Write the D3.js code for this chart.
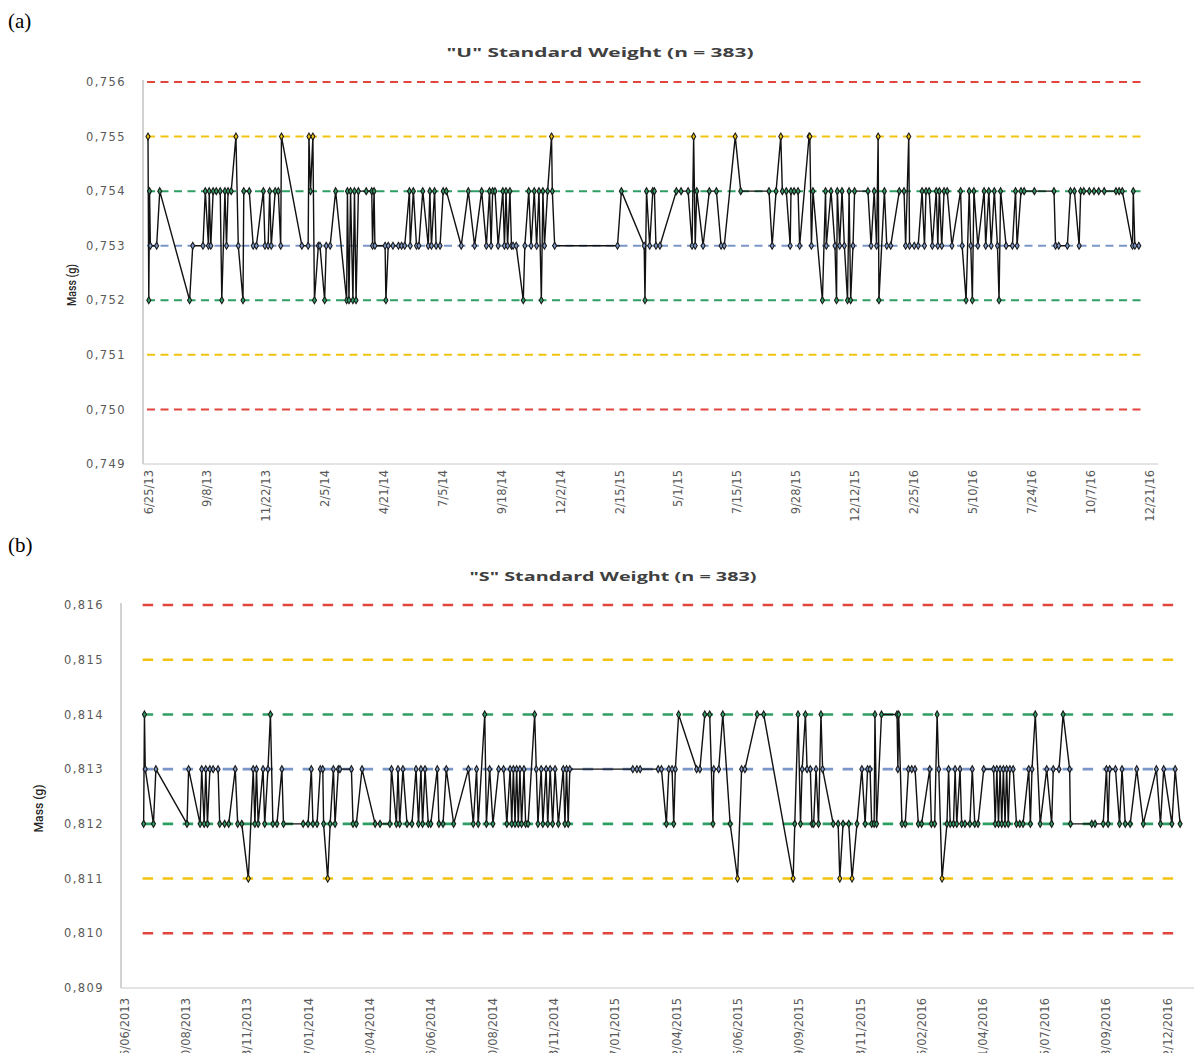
<!DOCTYPE html>
<html>
<head>
<meta charset="utf-8">
<script src="https://cdn.jsdelivr.net/npm/d3@7"></script>
<style>
	body { margin: 0; background: #fff; }
	svg { display: block; }
</style>
</head>
<body>
<div id="chart"></div>
<script>
// "U" weight: date axis labels (m/d/yy), days since the first label, mass in g
const uTickLabels = ['6/25/13', '9/8/13', '11/22/13', '2/5/14', '4/21/14', '7/5/14', '9/18/14', '12/2/14', '2/15/15',
	'5/1/15', '7/15/15', '9/28/15', '12/12/15', '2/25/16', '5/10/16', '7/24/16', '10/7/16', '12/21/16'];
const uDays = [
	0, 1, 2, 3, 11, 15, 53, 57, 70, 73,
	77, 78, 80, 83, 87, 92, 94, 98, 100, 102,
	106, 112, 115, 121, 122, 129, 134, 138, 147, 149,
	153, 155, 157, 162, 166, 169, 170, 196, 204, 205,
	207, 210, 212, 217, 219, 225, 227, 232, 239, 253,
	254, 256, 258, 261, 263, 265, 268, 278, 285, 286,
	288, 289, 302, 303, 306, 312, 319, 323, 327, 333,
	334, 338, 342, 345, 350, 357, 359, 361, 365, 367,
	372, 376, 380, 399, 408, 416, 425, 431, 435, 437,
	439, 442, 446, 452, 454, 456, 458, 461, 463, 465,
	469, 478, 480, 485, 488, 492, 495, 498, 501, 503,
	505, 509, 514, 515, 518, 598, 603, 632, 633, 635,
	639, 643, 645, 647, 652, 673, 679, 688, 693, 695,
	697, 699, 707, 715, 724, 730, 734, 748, 755, 791,
	795, 800, 806, 808, 813, 818, 819, 823, 828, 830,
	842, 843, 845, 847, 859, 863, 864, 870, 875, 877,
	878, 881, 884, 887, 891, 893, 895, 898, 900, 917,
	921, 925, 928, 930, 931, 938, 941, 946, 957, 963,
	965, 969, 970, 976, 981, 986, 989, 991, 995, 999,
	1004, 1006, 1008, 1011, 1014, 1018, 1024, 1035, 1037, 1042,
	1046, 1048, 1050, 1052, 1057, 1065, 1067, 1071, 1074, 1078,
	1082, 1084, 1086, 1093, 1101, 1105, 1107, 1112, 1116, 1129,
	1154, 1156, 1160, 1171, 1175, 1180, 1186, 1188, 1192, 1199,
	1205, 1211, 1218, 1233, 1237, 1241, 1254, 1255, 1257, 1262,
];
const uMass = [
	0.755, 0.752, 0.754, 0.753, 0.753, 0.754, 0.752, 0.753, 0.753, 0.754,
	0.753, 0.754, 0.753, 0.754, 0.754, 0.754, 0.752, 0.754, 0.753, 0.754,
	0.754, 0.755, 0.753, 0.752, 0.754, 0.754, 0.753, 0.753, 0.754, 0.753,
	0.753, 0.754, 0.753, 0.754, 0.754, 0.753, 0.755, 0.753, 0.753, 0.755,
	0.754, 0.755, 0.752, 0.753, 0.753, 0.752, 0.753, 0.753, 0.754, 0.752,
	0.754, 0.752, 0.754, 0.752, 0.754, 0.752, 0.754, 0.754, 0.754, 0.753,
	0.754, 0.753, 0.753, 0.752, 0.753, 0.753, 0.753, 0.753, 0.753, 0.754,
	0.753, 0.754, 0.753, 0.753, 0.754, 0.753, 0.754, 0.753, 0.754, 0.753,
	0.753, 0.754, 0.754, 0.753, 0.754, 0.753, 0.754, 0.753, 0.754, 0.753,
	0.754, 0.754, 0.753, 0.754, 0.753, 0.754, 0.753, 0.754, 0.753, 0.753,
	0.753, 0.752, 0.753, 0.754, 0.753, 0.754, 0.753, 0.754, 0.752, 0.754,
	0.753, 0.754, 0.755, 0.754, 0.753, 0.753, 0.754, 0.753, 0.752, 0.754,
	0.753, 0.754, 0.754, 0.753, 0.753, 0.754, 0.754, 0.754, 0.753, 0.755,
	0.753, 0.754, 0.753, 0.754, 0.754, 0.753, 0.753, 0.755, 0.754, 0.754,
	0.753, 0.754, 0.755, 0.754, 0.754, 0.753, 0.754, 0.754, 0.754, 0.753,
	0.755, 0.755, 0.753, 0.754, 0.752, 0.754, 0.753, 0.754, 0.753, 0.752,
	0.754, 0.753, 0.754, 0.753, 0.752, 0.754, 0.752, 0.753, 0.754, 0.754,
	0.753, 0.754, 0.753, 0.755, 0.752, 0.754, 0.753, 0.753, 0.754, 0.754,
	0.753, 0.755, 0.753, 0.753, 0.753, 0.754, 0.753, 0.754, 0.754, 0.753,
	0.754, 0.753, 0.754, 0.753, 0.754, 0.754, 0.753, 0.754, 0.753, 0.752,
	0.754, 0.753, 0.752, 0.754, 0.753, 0.754, 0.753, 0.754, 0.753, 0.754,
	0.753, 0.752, 0.754, 0.753, 0.753, 0.754, 0.753, 0.754, 0.754, 0.754,
	0.754, 0.753, 0.753, 0.753, 0.754, 0.754, 0.753, 0.754, 0.754, 0.754,
	0.754, 0.754, 0.754, 0.754, 0.754, 0.754, 0.753, 0.754, 0.753, 0.753,
];
const uLimits = [0.756, 0.755, 0.754, 0.753, 0.752, 0.751, 0.750];
const uYTicks = [0.749, 0.750, 0.751, 0.752, 0.753, 0.754, 0.755, 0.756];

// "S" weight: date axis labels (dd/mm/yyyy), days since the first label, mass in g
const sTickLabels = ['06/06/2013', '20/08/2013', '03/11/2013', '17/01/2014', '02/04/2014', '16/06/2014', '30/08/2014',
	'13/11/2014', '27/01/2015', '12/04/2015', '26/06/2015', '09/09/2015', '23/11/2015', '06/02/2016', '21/04/2016',
	'05/07/2016', '18/09/2016', '02/12/2016'];
const sDays = [
	24, 25, 26, 36, 39, 77, 79, 93, 95, 98,
	100, 102, 105, 109, 115, 117, 123, 128, 136, 139,
	144, 152, 158, 160, 162, 164, 170, 172, 176, 179,
	182, 187, 193, 195, 219, 225, 229, 231, 236, 240,
	243, 244, 249, 252, 256, 258, 262, 264, 278, 280,
	284, 291, 307, 313, 325, 327, 333, 335, 337, 341,
	346, 352, 357, 360, 363, 365, 368, 372, 375, 383,
	385, 390, 394, 403, 421, 427, 431, 433, 441, 443,
	447, 451, 458, 464, 468, 472, 474, 476, 478, 480,
	482, 484, 486, 489, 491, 494, 502, 504, 506, 510,
	512, 516, 518, 521, 524, 527, 531, 537, 539, 541,
	543, 545, 622, 627, 631, 653, 657, 663, 666, 670,
	672, 674, 678, 700, 704, 710, 716, 720, 721, 727,
	732, 741, 750, 755, 759, 774, 782, 818, 820, 824,
	827, 829, 833, 835, 839, 841, 843, 846, 849, 852,
	854, 867, 873, 875, 879, 886, 890, 896, 902, 906,
	909, 912, 914, 917, 918, 920, 926, 945, 946, 947,
	951, 955, 959, 963, 967, 971, 975, 985, 987, 991,
	994, 996, 1000, 1006, 1008, 1010, 1014, 1016, 1018, 1022,
	1024, 1028, 1034, 1037, 1040, 1044, 1051, 1063, 1065, 1067,
	1069, 1071, 1073, 1075, 1077, 1079, 1081, 1083, 1087, 1091,
	1095, 1099, 1106, 1108, 1110, 1114, 1120, 1128, 1134, 1136,
	1143, 1148, 1156, 1157, 1183, 1187, 1197, 1201, 1203, 1205,
	1212, 1217, 1220, 1224, 1230, 1238, 1246, 1262, 1267, 1271,
	1281, 1285, 1291,
];
const sMass = [
	0.812, 0.814, 0.813, 0.812, 0.813, 0.812, 0.813, 0.812, 0.813, 0.812,
	0.813, 0.812, 0.813, 0.813, 0.813, 0.812, 0.812, 0.812, 0.813, 0.812,
	0.812, 0.811, 0.813, 0.812, 0.813, 0.812, 0.813, 0.812, 0.813, 0.814,
	0.812, 0.812, 0.813, 0.812, 0.812, 0.812, 0.813, 0.812, 0.812, 0.813,
	0.813, 0.812, 0.811, 0.812, 0.813, 0.812, 0.813, 0.813, 0.813, 0.812,
	0.812, 0.813, 0.812, 0.812, 0.812, 0.813, 0.812, 0.813, 0.812, 0.813,
	0.812, 0.812, 0.813, 0.812, 0.813, 0.812, 0.813, 0.812, 0.812, 0.813,
	0.812, 0.812, 0.813, 0.812, 0.813, 0.812, 0.813, 0.812, 0.814, 0.812,
	0.813, 0.812, 0.813, 0.813, 0.812, 0.813, 0.812, 0.813, 0.812, 0.813,
	0.812, 0.813, 0.812, 0.813, 0.812, 0.812, 0.814, 0.813, 0.812, 0.813,
	0.812, 0.813, 0.812, 0.813, 0.812, 0.813, 0.812, 0.813, 0.812, 0.813,
	0.812, 0.813, 0.813, 0.813, 0.813, 0.813, 0.813, 0.812, 0.813, 0.813,
	0.812, 0.813, 0.814, 0.813, 0.813, 0.814, 0.814, 0.812, 0.813, 0.813,
	0.814, 0.812, 0.811, 0.813, 0.813, 0.814, 0.814, 0.811, 0.812, 0.814,
	0.812, 0.813, 0.814, 0.813, 0.813, 0.812, 0.812, 0.813, 0.812, 0.814,
	0.813, 0.812, 0.812, 0.811, 0.812, 0.812, 0.811, 0.812, 0.813, 0.812,
	0.813, 0.813, 0.812, 0.812, 0.814, 0.812, 0.814, 0.814, 0.813, 0.814,
	0.812, 0.812, 0.813, 0.813, 0.813, 0.812, 0.812, 0.813, 0.812, 0.812,
	0.814, 0.813, 0.811, 0.812, 0.813, 0.812, 0.812, 0.813, 0.812, 0.813,
	0.812, 0.812, 0.812, 0.813, 0.812, 0.812, 0.813, 0.813, 0.812, 0.813,
	0.812, 0.813, 0.812, 0.813, 0.812, 0.813, 0.812, 0.813, 0.813, 0.812,
	0.812, 0.812, 0.813, 0.812, 0.813, 0.814, 0.812, 0.813, 0.812, 0.813,
	0.813, 0.814, 0.813, 0.812, 0.812, 0.812, 0.812, 0.813, 0.812, 0.813,
	0.813, 0.812, 0.813, 0.812, 0.812, 0.813, 0.812, 0.813, 0.812, 0.813,
	0.812, 0.813, 0.812,
];
const sLimits = [0.816, 0.815, 0.814, 0.813, 0.812, 0.811, 0.810];
const sYTicks = [0.809, 0.810, 0.811, 0.812, 0.813, 0.814, 0.815, 0.816];

// red = action limit, yellow = warning limit, green = +-1 mg, blue = nominal
const limitColors = ['#e2453c', '#f1c30f', '#2f9e63', '#7b96c8', '#2f9e63', '#f1c30f', '#e2453c'];

const width = 1202;
const height = 1053;

const commaLocale = d3.formatLocale({ decimal: ',', thousands: '.', grouping: [3], currency: ['', ' €'] });
const massFormat = commaLocale.format('.3f');

const svg = d3.select('#chart').append('svg')
	.attr('width', width)
	.attr('height', height);

function controlChart(config) {
	const {
		panel,
		panelY,
		title,
		titleX,
		titleY,
		titleWidth,
		tickLabels,
		parseTick,
		days,
		mass,
		limits,
		yTicks,
		axisX,
		axisRight,
		xFirst,
		xLast,
		yTop,
		yBottom,
		tickLabelX,
		labelGap,
		massLabelX,
		massLabelWidth,
		dash,
		dashWidth,
	} = config;

	const g = svg.append('g');

	const tickDates = tickLabels.map((t) => parseTick(t));
	const dates = days.map((d) => d3.timeDay.offset(tickDates[0], d));
	const points = zipPoints(dates, mass);

	const xScale = d3.scaleTime()
		.domain([tickDates[0], tickDates[tickDates.length - 1]])
		.range([xFirst, xLast]);

	const yScale = d3.scaleLinear()
		.domain([yTicks[0], yTicks[yTicks.length - 1]])
		.range([yBottom, yTop]);

	const colorScale = d3.scaleOrdinal(limits, limitColors);

	g.append('text')
		.attr('x', 8)
		.attr('y', panelY)
		.style('font-family', '"Liberation Serif", "Times New Roman", serif')
		.style('font-size', '21px')
		.style('fill', '#000')
		.text(panel);

	g.append('text')
		.attr('x', titleX)
		.attr('y', titleY)
		.attr('text-anchor', 'middle')
		.attr('textLength', titleWidth)
		.attr('lengthAdjust', 'spacingAndGlyphs')
		.style('font-family', '"Open Sans", sans-serif')
		.style('font-weight', 700)
		.style('font-size', '13px')
		.style('fill', '#404040')
		.text(title);

	// axes, Excel style: plain grey lines, no tick marks
	g.append('g')
		.attr('class', 'y axis')
		.attr('transform', `translate(${axisX},0)`)
		.call(d3.axisLeft(yScale).tickValues(yTicks).tickSize(0).tickPadding(axisX - tickLabelX).tickFormat(massFormat))
		.call((a) => a.select('.domain').remove())
		.selectAll('text')
			.style('font-family', '"DejaVu Sans", sans-serif')
			.style('font-size', '11.5px')
			.style('letter-spacing', '1.4px')
			.style('fill', '#595959');

	g.append('line')
		.attr('x1', axisX).attr('x2', axisX)
		.attr('y1', yTop - 2).attr('y2', yBottom)
		.attr('stroke', '#a6a6a6');

	g.append('g')
		.attr('class', 'x axis')
		.attr('transform', `translate(0,${yBottom})`)
		.call(d3.axisBottom(xScale).tickValues(tickDates).tickSize(0).tickFormat((d, i) => tickLabels[i]))
		.call((a) => a.select('.domain').remove())
		.selectAll('text')
			.attr('transform', 'rotate(-90)')
			.attr('x', -labelGap)
			.attr('y', 0)
			.attr('dy', '0.35em')
			.style('text-anchor', 'end')
			.style('font-family', '"DejaVu Sans", sans-serif')
			.style('font-size', '11.5px')
			.style('fill', '#595959');

	g.append('line')
		.attr('x1', axisX).attr('x2', axisRight)
		.attr('y1', yBottom).attr('y2', yBottom)
		.attr('stroke', '#c8c8c8');

	g.append('text')
		.attr('transform', `translate(${massLabelX},${(yTop + yBottom) / 2 + 12}) rotate(-90)`)
		.attr('text-anchor', 'middle')
		.attr('textLength', massLabelWidth)
		.attr('lengthAdjust', 'spacingAndGlyphs')
		.style('font-family', 'Roboto, sans-serif')
		.style('font-weight', 500)
		.style('font-size', '12.5px')
		.style('fill', '#262626')
		.text('Mass (g)');

	// limit lines run from the first to the last measurement
	const x0 = xScale(dates[0]) - 1;
	const x1 = xScale(dates[dates.length - 1]) + 2;
	g.selectAll('.limit')
		.data(limits)
		.enter().append('line')
			.attr('class', 'limit')
			.attr('x1', x0)
			.attr('x2', x1)
			.attr('y1', (d) => yScale(d))
			.attr('y2', (d) => yScale(d))
			.attr('stroke', (d) => colorScale(d))
			.attr('stroke-width', dashWidth)
			.attr('stroke-dasharray', dash);

	const line = d3.line()
		.x((d) => xScale(d[0]))
		.y((d) => yScale(d[1]));

	g.append('path')
		.datum(points)
		.attr('fill', 'none')
		.attr('stroke', '#111')
		.attr('stroke-width', 1.4)
		.attr('stroke-linejoin', 'round')
		.attr('d', line);

	g.selectAll('.dot')
		.data(points)
		.enter().append('path')
			.attr('class', 'dot')
			.attr('transform', (d) => `translate(${xScale(d[0])},${yScale(d[1])})`)
			.attr('d', d3.symbol(d3.symbolDiamond, 14))
			.style('fill', (d) => colorScale(d[1]))
			.style('stroke', '#1a1a1a')
			.style('stroke-width', 1.1);
}

function zipPoints(xs, ys) {
	return xs.map((x, i) => [x, ys[i]]);
}

controlChart({
	panel: '(a)',
	panelY: 28,
	title: '"U" Standard Weight (n = 383)',
	titleX: 600,
	titleY: 57,
	titleWidth: 307,
	tickLabels: uTickLabels,
	parseTick: d3.timeParse('%m/%d/%y'),
	days: uDays,
	mass: uMass,
	limits: uLimits,
	yTicks: uYTicks,
	axisX: 143,
	axisRight: 1158,
	xFirst: 148,
	xLast: 1149,
	yTop: 82,
	yBottom: 464,
	tickLabelX: 126,
	labelGap: 6,
	massLabelX: 76,
	massLabelWidth: 42,
	dash: '8,5.5',
	dashWidth: 2,
});

controlChart({
	panel: '(b)',
	panelY: 552,
	title: '"S" Standard Weight (n = 383)',
	titleX: 613,
	titleY: 581,
	titleWidth: 287,
	tickLabels: sTickLabels,
	parseTick: d3.timeParse('%d/%m/%Y'),
	days: sDays,
	mass: sMass,
	limits: sLimits,
	yTicks: sYTicks,
	axisX: 121,
	axisRight: 1194,
	xFirst: 124,
	xLast: 1167,
	yTop: 605,
	yBottom: 988,
	tickLabelX: 104,
	labelGap: 10,
	massLabelX: 43,
	massLabelWidth: 48,
	dash: '10.5,9.5',
	dashWidth: 2.6,
});
</script>
</body>
</html>
